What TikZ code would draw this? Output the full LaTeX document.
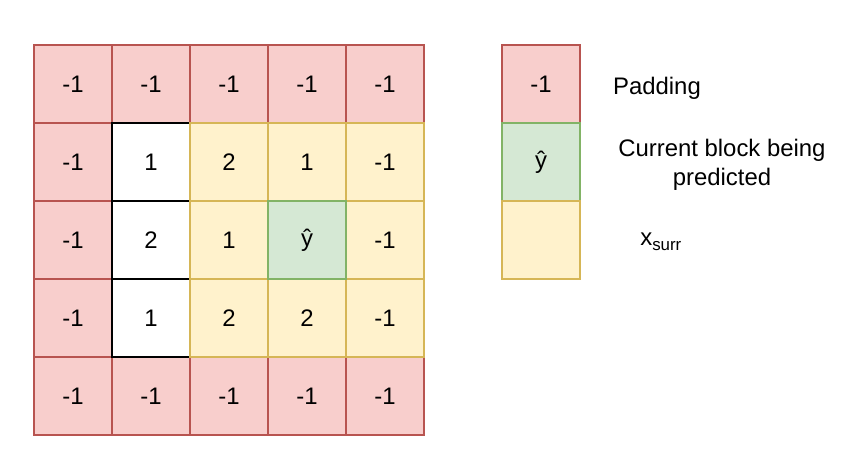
\documentclass[tikz,border=0pt]{standalone}
\usepackage{fontspec}
\setmainfont{Liberation Sans}
\usetikzlibrary{positioning}

\definecolor{padfill}{HTML}{F8CECC}
\definecolor{paddraw}{HTML}{B85450}
\definecolor{surrfill}{HTML}{FFF2CC}
\definecolor{surrdraw}{HTML}{D6B656}
\definecolor{predfill}{HTML}{D5E8D4}
\definecolor{preddraw}{HTML}{82B366}

\tikzset{
  cell/.style={draw, line width=1pt, minimum size=1.95cm, inner sep=0pt, outer sep=0pt,
    font=\fontsize{17}{20}\selectfont},
  padcell/.style={cell, fill=padfill, draw=paddraw},
  knowncell/.style={cell, fill=white, draw=black},
  surrcell/.style={cell, fill=surrfill, draw=surrdraw},
  predcell/.style={cell, fill=predfill, draw=preddraw},
  legendtext/.style={font=\fontsize{17}{20}\selectfont, align=center, inner sep=0pt}
}

\begin{document}
\begin{tikzpicture}[x=0.025cm, y=-0.025cm]
\useasboundingbox (0,0) rectangle (844,460);

% padding ring
\foreach \j in {0,...,4} {
  \node[padcell] (c0\j) at (73+78*\j, 84) {-1};
  \node[padcell] (c4\j) at (73+78*\j, 396) {-1};
}
\foreach \i in {1,2,3}
  \node[padcell] (c\i0) at (73, 84+78*\i) {-1};

% known column
\foreach \i/\v in {1/1, 2/2, 3/1}
  \node[knowncell] (c\i1) at (151, 84+78*\i) {\v};

% surrounding blocks
\foreach \i/\j/\v in {1/2/2, 2/2/1, 3/2/2, 1/3/1, 3/3/2, 1/4/-1, 2/4/-1, 3/4/-1}
  \node[surrcell] (c\i\j) at (73+78*\j, 84+78*\i) {\v};

% block being predicted
\node[predcell] (c23) at (307, 240) {ŷ};

% legend
\node[padcell] (legpad) at (541, 84) {-1};
\node[predcell, below=0pt of legpad] (legpred) {ŷ};
\node[surrcell, below=0pt of legpred] (legsurr) {};

\node[legendtext, right=0.82cm of legpad, anchor=west, yshift=-0.1cm] (txtpad) {Padding};
\node[legendtext, right=0.95cm of legpred, anchor=west, yshift=-0.07cm] (txtpred) {Current block being\\predicted};
\node[legendtext, right=1.5cm of legsurr, anchor=west, yshift=-0.05cm] (txtsurr)
  {x\raisebox{-0.4ex}{\fontsize{12}{14}\selectfont surr}};
\end{tikzpicture}
\end{document}
